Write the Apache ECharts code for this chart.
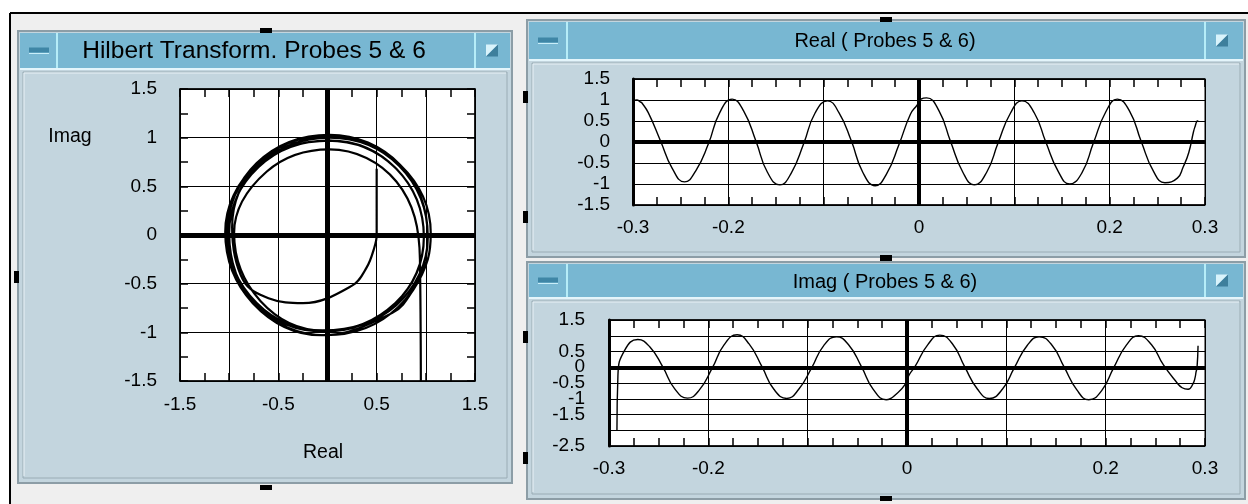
<!DOCTYPE html>
<html style="height: 100%">
<head>
    <meta charset="utf-8">
</head>
<body style="height: 100%; margin: 0; background: #fff">
    <div id="container" style="width: 1248px; height: 504px"></div>
    <script type="text/javascript" src="https://cdn.jsdelivr.net/npm/echarts@6/dist/echarts.min.js"></script>
<script type="text/javascript">
    var tSec = [-0.300, -0.296, -0.292, -0.291, -0.284, -0.271, -0.259, -0.246, -0.234, -0.221,
                -0.209, -0.196, -0.184, -0.171, -0.159, -0.146, -0.134, -0.121, -0.109, -0.096,
                -0.084, -0.071, -0.059, -0.046, -0.034, -0.021, -0.009, -0.002, 0.002, 0.008,
                0.021, 0.033, 0.046, 0.058, 0.071, 0.083, 0.096, 0.108, 0.121, 0.133,
                0.146, 0.158, 0.171, 0.183, 0.196, 0.208, 0.221, 0.233, 0.246, 0.258,
                0.271, 0.277, 0.283, 0.288, 0.290, 0.291, 0.292, 0.293];
    var realVals = [0.98, 1.00, 0.95, 0.94, 0.70, 0.02, -0.62, -0.95, -0.68, -0.05,
                    0.70, 1.02, 0.74, 0.02, -0.72, -1.02, -0.74, -0.04, 0.69, 0.98,
                    0.70, 0.03, -0.72, -1.04, -0.76, -0.06, 0.66, 0.88, 1.02, 1.05,
                    0.74, 0.02, -0.72, -1.02, -0.72, -0.02, 0.69, 0.98, 0.69, 0.00,
                    -0.70, -1.00, -0.73, -0.02, 0.72, 1.02, 0.73, 0.02, -0.70, -0.97,
                    -0.86, -0.60, -0.25, 0.25, 0.40, 0.47, 0.50, 0.50];
    var imagVals = [null, null, -2.00, -0.25, 0.55, 0.88, 0.65, 0.02, -0.68, -0.98,
                    -0.72, -0.02, 0.72, 1.03, 0.74, 0.02, -0.70, -0.99, -0.70, -0.02,
                    0.68, 0.97, 0.72, 0.03, -0.70, -1.03, -0.80, -0.55, -0.25, 0.02,
                    0.72, 1.02, 0.73, 0.02, -0.70, -0.99, -0.70, -0.02, 0.69, 0.97,
                    0.70, 0.02, -0.72, -1.03, -0.74, -0.02, 0.71, 1.00, 0.72, 0.08,
                    -0.46, -0.65, -0.70, -0.52, -0.33, -0.15, 0.00, 0.68];

    // tick labels that are actually printed
    var hilbertXLabels = [-1.5, -0.5, 0.5, 1.5];
    var hilbertYLabels = [1.5, 1, 0.5, 0, -0.5, -1, -1.5];
    var timeLabels = [-0.3, -0.2, 0, 0.2, 0.3];
    var realYLabels = [1.5, 1, 0.5, 0, -0.5, -1, -1.5];
    var imagYLabels = [1.5, 0.5, 0, -0.5, -1, -1.5, -2.5];

    var realData = [], imagData = [], polarData = [];
    for (var i = 0; i < tSec.length; i++) {
        realData.push([tSec[i], realVals[i]]);
        if (imagVals[i] !== null) {
            imagData.push([tSec[i], imagVals[i]]);
            polarData.push([realVals[i], imagVals[i]]);
        }
    }

    var fontName = '"Liberation Sans", Arial, sans-serif';

    function pick(list) {
        return function (v) {
            var r = Math.round(v * 1000) / 1000;
            return list.indexOf(r) >= 0 ? String(r) : '';
        };
    }

    function axis(gridIndex, position, min, max, step, minorSplit, labels, margin, lineW) {
        return {
            type: 'value', gridIndex: gridIndex, position: position,
            min: min, max: max, interval: step,
            axisLine: {show: true, onZero: false, lineStyle: {color: '#000', width: lineW}},
            axisTick: {show: minorSplit > 0, inside: true, length: 8, lineStyle: {color: '#000', width: 1.5}},
            minorTick: {show: minorSplit > 0, splitNumber: minorSplit || 5, length: 8, lineStyle: {color: '#000', width: 1.5}},
            axisLabel: labels ? {show: true, formatter: pick(labels), color: '#000', fontSize: 19,
                                 fontFamily: fontName, margin: margin} : {show: false},
            splitLine: {show: !!labels, lineStyle: {color: '#000', width: 1}},
            minorSplitLine: {show: false}
        };
    }

    function zeroLines(w) {
        return {
            silent: true, symbol: 'none', label: {show: false},
            lineStyle: {color: '#000', width: w, type: 'solid'},
            emphasis: {disabled: true},
            data: [{xAxis: 0}, {yAxis: 0}]
        };
    }

    // window frames drawn behind the plots
    function text(str, x, y, size) {
        return {type: 'text', z: -5, style: {text: str, x: x, y: y, fill: '#000',
            font: size + 'px ' + fontName, textAlign: 'center', align: 'center',
            textVerticalAlign: 'middle', verticalAlign: 'middle'}};
    }
    function box(x, y, w, h, fill, stroke, lw) {
        return {type: 'rect', z: -10, shape: {x: x, y: y, width: w, height: h},
            style: {fill: fill || 'none', stroke: stroke || 'none', lineWidth: lw || 1}};
    }
    function seg(x1, y1, x2, y2, color, lw) {
        return {type: 'line', z: -9, shape: {x1: x1, y1: y1, x2: x2, y2: y2},
            style: {stroke: color, lineWidth: lw}};
    }
    function panel(x, y, w, h, barH, sepL, sepR) {
        var els = [];
        var barB = y + 2 + barH;
        var mid = y + 2 + barH / 2;
        els.push(box(x, y, w, h, '#c3d5de', '#8c9da6', 2));
        els.push(box(x + 2, y + 2, w - 4, barH, '#78b7d2'));
        els.push(seg(x + 2, barB + 1, x + w - 2, barB + 1, '#e4f5fb', 2));
        els.push(seg(sepL, y + 2, sepL, barB, '#b6edf8', 2));
        els.push(seg(sepR, y + 2, sepR, barB, '#b6edf8', 2));
        els.push(box(x + 5, barB + 4, w - 10, h - barH - 11, '#c3d5de', '#9aacb5', 1));
        els.push(seg(x + 6, barB + 5, x + w - 6, barB + 5, '#e9f2f6', 1));
        els.push(seg(x + 6, barB + 5, x + 6, y + h - 7, '#e9f2f6', 1));
        els.push(box(x + 11, mid - 3, 20, 5, '#3f86a6'));
        els.push(seg(x + 11, mid + 3, x + 31, mid + 3, '#c9eef9', 1));
        els.push({type: 'polygon', z: -8, shape: {points: [[sepR + 11, mid - 6], [sepR + 23, mid - 6], [sepR + 11, mid + 6]]},
            style: {fill: '#d9f3fb'}});
        els.push({type: 'polygon', z: -8, shape: {points: [[sepR + 23, mid - 6], [sepR + 23, mid + 6], [sepR + 11, mid + 6]]},
            style: {fill: '#3e7f9c'}});
        return els;
    }

    var graphics = [
        box(0, 0, 1248, 504, '#ffffff'),
        box(10, 13, 1238, 491, '#efefef'),
        seg(10, 13, 1248, 13, '#000', 2),
        seg(10, 13, 10, 504, '#000', 2)
    ];
    graphics = graphics.concat(panel(18, 31, 494, 452, 35, 57, 475));
    graphics = graphics.concat(panel(527, 20, 718, 237, 37, 567, 1205));
    graphics = graphics.concat(panel(527, 262, 718, 237, 33, 567, 1205));
    // black selection handles
    [[260, 28, 12, 5], [260, 485, 12, 5], [14, 271, 5, 12], [880, 17, 12, 5], [880, 255, 12, 6],
     [880, 496, 12, 5], [523, 91, 5, 12], [523, 211, 5, 12], [523, 331, 5, 12], [523, 452, 5, 12]]
        .forEach(function (r) { graphics.push(box(r[0], r[1], r[2], r[3], '#000')); });
    graphics.push(text('Hilbert Transform. Probes 5 & 6', 254, 51, 24.5));
    graphics.push(text('Real ( Probes 5 & 6)', 885, 41, 20));
    graphics.push(text('Imag ( Probes 5 & 6)', 885, 282, 20));
    graphics.push(text('Imag', 70, 137, 19.5));
    graphics.push(text('Real', 323, 453, 19.5));

    var dom = document.getElementById('container');
    var myChart = echarts.init(dom, null, {renderer: 'canvas'});
    var gridBase = {show: true, backgroundColor: '#fff', borderColor: '#000', borderWidth: 1,
                    containLabel: false, outerBoundsMode: 'none'};
    myChart.setOption({
        animation: false,
        backgroundColor: 'transparent',
        graphic: {elements: graphics},
        grid: [
            Object.assign({left: 180, top: 89, width: 295, height: 292}, gridBase),
            Object.assign({left: 633, top: 79, width: 572, height: 126}, gridBase),
            Object.assign({left: 609, top: 320, width: 596, height: 126}, gridBase)
        ],
        xAxis: [
            axis(0, 'bottom', -1.5, 1.5, 0.5, 2, hilbertXLabels, 14, 1.5),
            axis(0, 'top', -1.5, 1.5, 0.5, 2, null, 0, 1.5),
            axis(1, 'bottom', -0.3, 0.3, 0.1, 4, timeLabels, 13, 1.5),
            axis(1, 'top', -0.3, 0.3, 0.1, 4, null, 0, 1.5),
            axis(2, 'bottom', -0.3, 0.3, 0.1, 4, timeLabels, 13, 1.5),
            axis(2, 'top', -0.3, 0.3, 0.1, 4, null, 0, 1.5)
        ],
        yAxis: [
            axis(0, 'left', -1.5, 1.5, 0.5, 2, hilbertYLabels, 23, 1.5),
            axis(0, 'right', -1.5, 1.5, 0.5, 2, null, 0, 1.5),
            axis(1, 'left', -1.5, 1.5, 0.5, 0, realYLabels, 23, 3),
            axis(2, 'left', -2.5, 1.5, 0.5, 0, imagYLabels, 24, 3)
        ],
        series: [
            {
                name: 'Hilbert', type: 'line', xAxisIndex: 0, yAxisIndex: 0,
                data: polarData, smooth: 0.38, symbol: 'none', silent: true,
                lineStyle: {color: '#000', width: 2.2},
                markLine: zeroLines(5)
            },
            {
                name: 'Real', type: 'line', xAxisIndex: 2, yAxisIndex: 2,
                data: realData, smooth: 0.5, symbol: 'none', silent: true,
                lineStyle: {color: '#000', width: 1.4},
                markLine: zeroLines(4)
            },
            {
                name: 'Imag', type: 'line', xAxisIndex: 4, yAxisIndex: 3,
                data: imagData, smooth: 0.5, symbol: 'none', silent: true,
                lineStyle: {color: '#000', width: 1.4},
                markLine: zeroLines(4)
            }
        ]
    });
</script>
</body>
</html>
